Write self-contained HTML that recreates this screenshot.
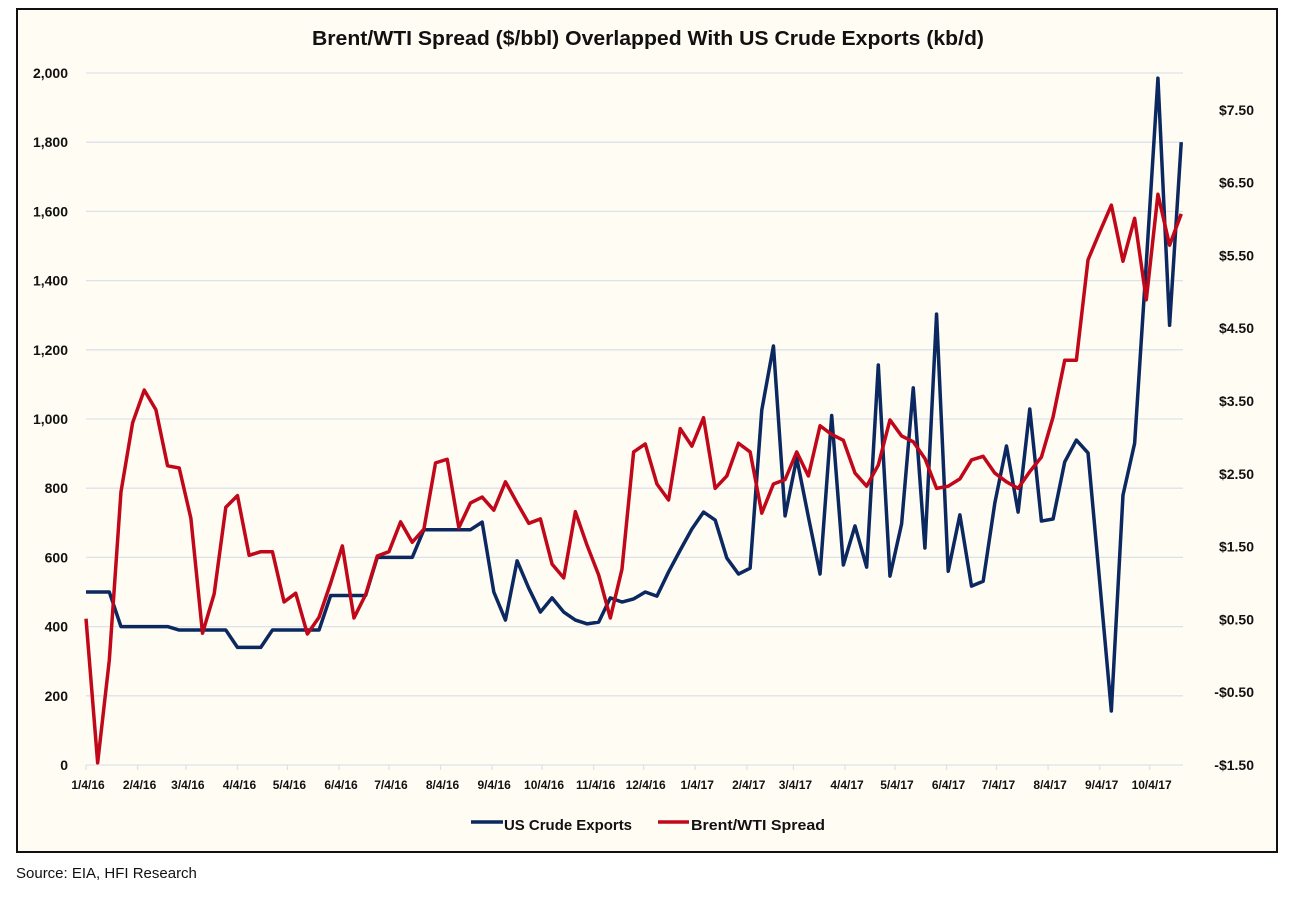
<!DOCTYPE html>
<html><head><meta charset="utf-8"><style>
html,body{margin:0;padding:0;background:#fff;}
svg{display:block;font-family:"Liberation Sans",sans-serif;}
</style></head><body>
<svg id="chart" width="1300" height="898" viewBox="0 0 1300 898" xmlns="http://www.w3.org/2000/svg">
<rect x="17" y="9" width="1260" height="843" fill="#fffcf3" stroke="#111" stroke-width="2"/>
<text x="648" y="45" text-anchor="middle" font-size="20" font-weight="bold" fill="#111" textLength="672" lengthAdjust="spacingAndGlyphs">Brent/WTI Spread ($/bbl) Overlapped With US Crude Exports (kb/d)</text>
<g id="grid"></g>
<g id="yl"></g>
<g id="yr"></g>
<g id="xa"></g>
<g id="series"></g>
<g>
<line x1="471" y1="822" x2="503" y2="822" stroke="#0b2860" stroke-width="3.5"/>
<text x="504" y="830" font-size="15" font-weight="bold" fill="#111" textLength="128" lengthAdjust="spacingAndGlyphs">US Crude Exports</text>
<line x1="658" y1="822" x2="689" y2="822" stroke="#c0081a" stroke-width="3.5"/>
<text x="691" y="830" font-size="15" font-weight="bold" fill="#111" textLength="134" lengthAdjust="spacingAndGlyphs">Brent/WTI Spread</text>
</g>
<text x="16" y="878" font-size="15" fill="#111">Source: EIA, HFI Research</text>
</svg>
<script>
const leftTicks=[0,200,400,600,800,1000,1200,1400,1600,1800,2000];
const rightTicks=[-1.5,-0.5,0.5,1.5,2.5,3.5,4.5,5.5,6.5,7.5];
const rightLabels=["-$1.50","-$0.50","$0.50","$1.50","$2.50","$3.50","$4.50","$5.50","$6.50","$7.50"];
const monthLabels=["1/4/16","2/4/16","3/4/16","4/4/16","5/4/16","6/4/16","7/4/16","8/4/16","9/4/16","10/4/16","11/4/16","12/4/16","1/4/17","2/4/17","3/4/17","4/4/17","5/4/17","6/4/17","7/4/17","8/4/17","9/4/17","10/4/17"];
const exports=[500,500,500,400,400,400,400,400,390,390,390,390,390,340,340,340,390,390,390,390,390,490,490,490,490,600,600,600,600,680,680,680,680,680,702,500,419,590,511,442,483,442,419,408,413,483,471,480,500,488,558,621,682,731,708,598,552,569,1026,1211,720,887,717,552,1010,578,691,572,1156,546,697,1090,627,1303,560,723,517,531,757,922,731,1029,705,711,876,939,902,530,156,780,930,1450,1985,1271,1800];
const spread=[0.51,-1.47,-0.06,2.25,3.2,3.65,3.38,2.61,2.58,1.89,0.31,0.85,2.04,2.2,1.38,1.43,1.43,0.74,0.86,0.30,0.53,1.0,1.51,0.52,0.84,1.37,1.43,1.84,1.56,1.74,2.65,2.7,1.76,2.1,2.18,2.0,2.39,2.1,1.82,1.88,1.26,1.07,1.98,1.52,1.11,0.52,1.19,2.8,2.91,2.36,2.14,3.12,2.88,3.27,2.3,2.47,2.92,2.8,1.96,2.36,2.42,2.8,2.47,3.16,3.04,2.96,2.51,2.33,2.62,3.24,3.02,2.94,2.71,2.3,2.33,2.43,2.69,2.74,2.51,2.39,2.3,2.53,2.73,3.28,4.06,4.06,5.44,5.82,6.19,5.42,6.01,4.89,6.34,5.64,6.07];
const NS="http://www.w3.org/2000/svg";
const X0=86,PXDAY=1.6645;
const yL=v=>765-v*0.346;
const yR=v=>765-(v+1.5)*72.8;
const xW=i=>X0+i*7*PXDAY;
function el(tag,attrs,parent,txt){const e=document.createElementNS(NS,tag);for(const k in attrs)e.setAttribute(k,attrs[k]);if(txt!==undefined)e.textContent=txt;parent.appendChild(e);return e;}
const grid=document.getElementById('grid'),yl=document.getElementById('yl'),yr=document.getElementById('yr'),xa=document.getElementById('xa'),ser=document.getElementById('series');
leftTicks.forEach(v=>{
 const g=el('line',{x1:86,x2:1183,y1:yL(v),y2:yL(v),stroke:'#dde2ea','stroke-width':1.3},grid);
 
 
 const t=el('text',{x:68,y:yL(v)+5,'text-anchor':'end','font-size':14,'font-weight':'bold',fill:'#111'},yl,v.toLocaleString('en-US'));
 
 
});
rightTicks.forEach((v,i)=>{
 const t=el('text',{x:1254,y:yR(v)+5,'text-anchor':'end','font-size':14,'font-weight':'bold',fill:'#111'},yr,rightLabels[i]);
 
 
});
const start=new Date(2016,0,4);
monthLabels.forEach(s=>{
 const p=s.split('/');const d=new Date(2000+ +p[2],+p[0]-1,+p[1]);
 const x=X0+Math.round((d-start)/86400000)*PXDAY;
 const tk=el('line',{x1:x,x2:x,y1:765,y2:770,stroke:'#dde2ea','stroke-width':1.3},xa);
 
 
 const t=el('text',{x:x+2,y:789,'text-anchor':'middle','font-size':12,'font-weight':'bold',fill:'#111'},xa,s);
 
 
});
const pe=el('polyline',{points:exports.map((v,i)=>xW(i)+','+yL(v)).join(' '),fill:'none',stroke:'#0b2860','stroke-width':3.5,'stroke-linejoin':'round'},ser);


const ps=el('polyline',{points:spread.map((v,i)=>xW(i)+','+yR(v)).join(' '),fill:'none',stroke:'#c0081a','stroke-width':3.5,'stroke-linejoin':'round'},ser);


</script>
</body></html>
